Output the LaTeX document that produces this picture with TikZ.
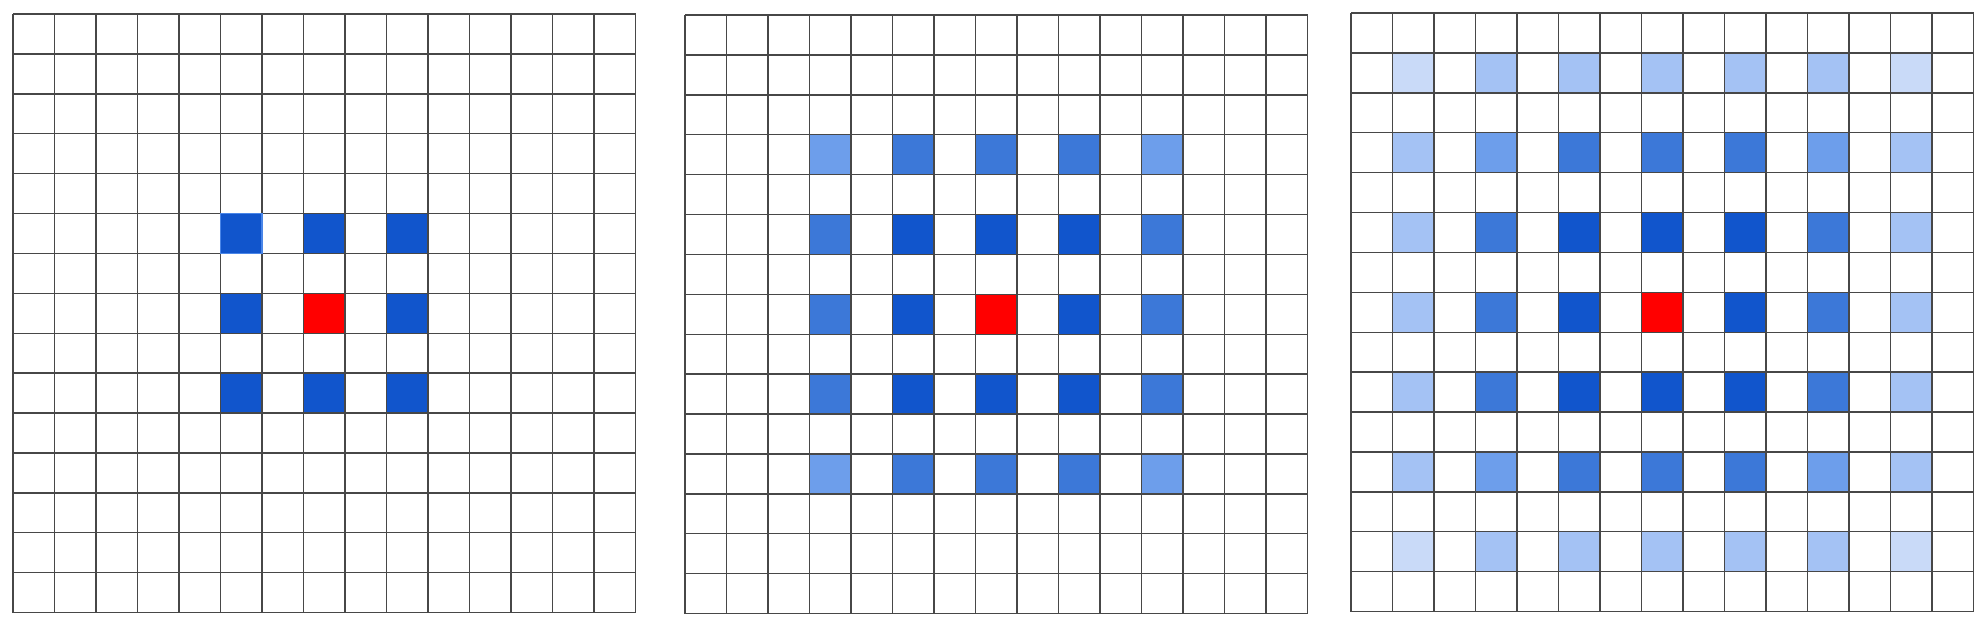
\documentclass[tikz,border=0pt]{standalone}
\usepackage{tikz}
\usepackage{xcolor}

\definecolor{darkblue}{HTML}{1155CC}
\definecolor{midblue}{HTML}{3C78D8}
\definecolor{lightblue}{HTML}{6D9EEB}
\definecolor{paleblue}{HTML}{A4C2F4}
\definecolor{faintblue}{HTML}{C9DAF8}
\definecolor{edgeblue}{HTML}{4A86E8}
\definecolor{centerred}{HTML}{FF0000}

\newcommand{\paintcell}[3]{\fill[#3] (#1,#2) rectangle ++(1,1);}
\newcommand{\cellgrid}{%
  \foreach \i in {0,...,15} {
    \draw[gridline] (\i,0) -- (\i,15);
    \draw[gridline] (0,\i) -- (15,\i);
  }}

\begin{document}
\begin{tikzpicture}[
  cellunits/.style={x=20.75pt, y=-19.95pt},
  gridline/.style={draw=black!72, line width=0.7pt}
]
\useasboundingbox (0,0) rectangle (994pt,-313.5pt);

% left: dilation 2
\begin{scope}[cellunits, shift={(6.5pt,-7pt)}]
  \foreach \c in {5,7,9} {
    \foreach \r in {5,7,9} {\paintcell{\c}{\r}{darkblue}}}
  \paintcell{7}{7}{centerred}
  \cellgrid
  \draw[edgeblue, line width=0.7pt] (5,5) rectangle ++(1,1);
\end{scope}

% middle: dilation 2 and 4
\begin{scope}[cellunits, shift={(342.5pt,-7.5pt)}]
  \foreach \c in {3,5,...,11} {
    \foreach \r in {3,5,...,11} {\paintcell{\c}{\r}{midblue}}}
  \foreach \c/\r in {3/3,11/3,3/11,11/11} {\paintcell{\c}{\r}{lightblue}}
  \foreach \c in {5,7,9} {
    \foreach \r in {5,7,9} {\paintcell{\c}{\r}{darkblue}}}
  \paintcell{7}{7}{centerred}
  \cellgrid
\end{scope}

% right: dilation 2, 4 and 6
\begin{scope}[cellunits, shift={(675.5pt,-6.5pt)}]
  \foreach \c in {1,3,...,13} {
    \foreach \r in {1,3,...,13} {\paintcell{\c}{\r}{paleblue}}}
  \foreach \c/\r in {1/1,13/1,1/13,13/13} {\paintcell{\c}{\r}{faintblue}}
  \foreach \c in {3,5,...,11} {
    \foreach \r in {3,5,...,11} {\paintcell{\c}{\r}{midblue}}}
  \foreach \c/\r in {3/3,11/3,3/11,11/11} {\paintcell{\c}{\r}{lightblue}}
  \foreach \c in {5,7,9} {
    \foreach \r in {5,7,9} {\paintcell{\c}{\r}{darkblue}}}
  \paintcell{7}{7}{centerred}
  \cellgrid
\end{scope}

\end{tikzpicture}
\end{document}
